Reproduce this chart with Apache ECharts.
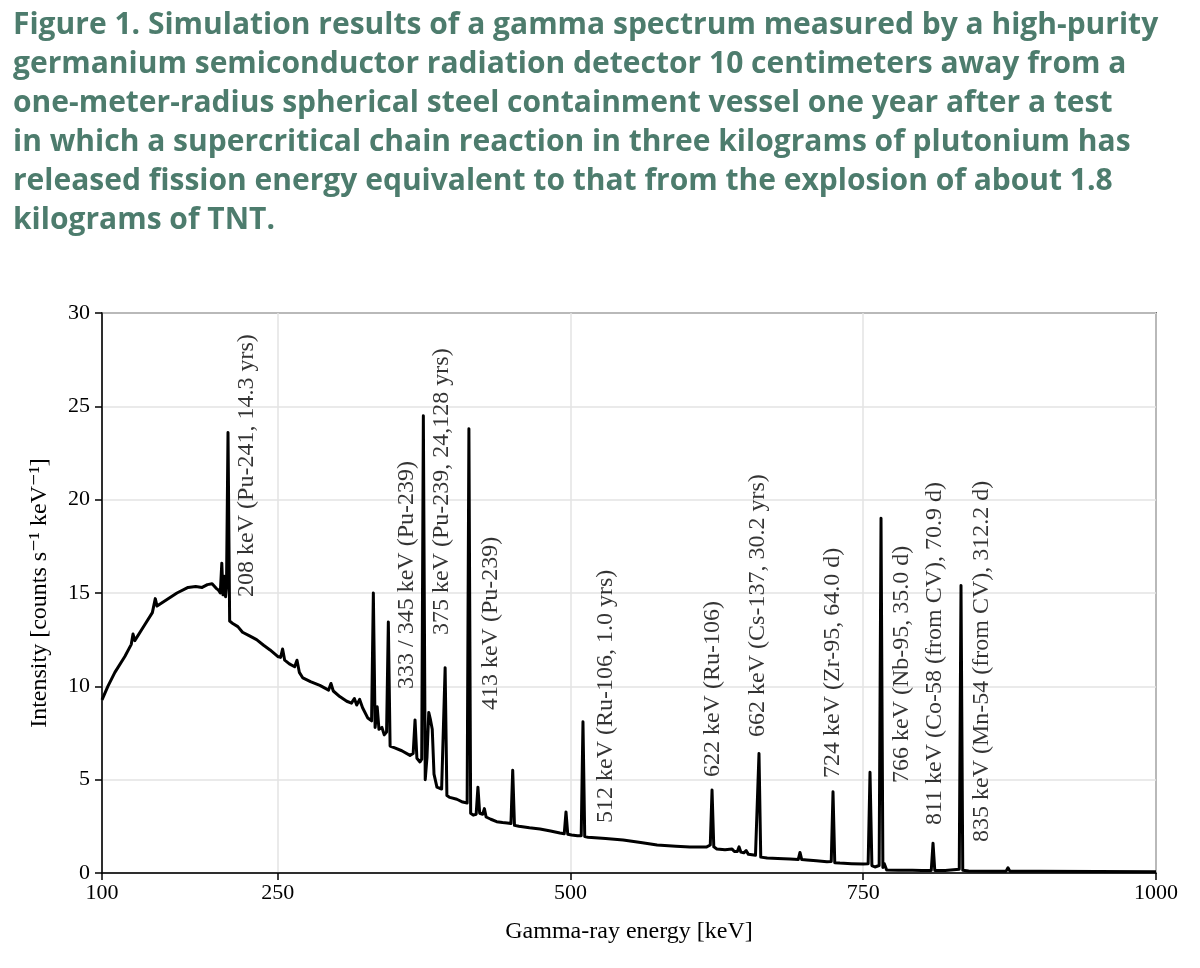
<!DOCTYPE html>
<html>
<head>
<meta charset="utf-8">
<script src="https://cdn.jsdelivr.net/npm/echarts@6/dist/echarts.min.js"></script>
<style>
html,body{margin:0;padding:0;background:#fff;}
#chart{width:1200px;height:968px;}
</style>
</head>
<body>
<div id="chart"></div>
<script>
// Spectrum (energy in keV, intensity in counts s^-1 keV^-1)
const energy = [100,105,111,119.5,125,126.5,128,136.5,143,145.5,147,155.5,164,173.5,180,185.5,190,194,197.5,199.5,201,202.3,203.3,204.5,205.5,206.3,207.6,209,212,216,220,226,232,238,243.5,250,252.5,254.2,256,260,264.5,266.5,268.5,271.5,278,286,293.5,295.5,297.5,303,309,313,315.5,317.5,320,322.5,327,330.2,331.7,333.2,335,336.5,339,341,343,344.5,346,350,356,363,365.7,367.3,368.9,371.5,373,374.4,376,377.5,379,380.5,382,383.5,386,390,391.5,393,394.5,397,403,408,411.8,413.3,414.8,417,419.5,421,422.5,425,426.5,428,432,437,442,446,449.2,450.7,452.2,456,465,474,483,491,494.7,496.2,497.7,501,506,509.2,510.7,512.2,515,530,545,560,574,590,602,616,619.4,620.9,622.4,625,632,638,640,642.5,644,645.5,648,650,652,658,659.5,661,662.5,668,677,687.5,694.5,696,697.5,702,710,719,722.7,724.2,725.7,730,740,750,754.2,755.8,757.4,760,763.6,765.2,766.8,768,770,780,792,800,808.1,809.6,811.1,820,832,833.5,835,840,860,872,873.6,875.2,900,950,1000];
const intensity = [9.27,10.0,10.75,11.6,12.25,12.8,12.45,13.3,13.95,14.7,14.3,14.65,15.0,15.3,15.35,15.3,15.45,15.5,15.25,15.15,15.0,16.6,14.9,15.9,14.8,15.3,23.6,13.5,13.35,13.2,12.9,12.7,12.5,12.2,11.95,11.6,11.55,12.0,11.4,11.2,11.05,11.4,10.75,10.45,10.25,10.05,9.8,10.15,9.75,9.45,9.2,9.1,9.35,9.0,9.3,8.85,8.3,8.15,15.0,7.8,8.9,7.7,7.8,7.4,7.55,13.45,6.8,6.7,6.55,6.3,6.4,8.2,6.15,5.95,6.1,24.5,5.0,6.2,8.6,8.2,7.7,5.3,4.6,4.5,4.55,11.0,4.15,4.05,3.95,3.8,3.75,23.8,3.2,3.1,3.15,4.6,3.2,3.15,3.45,3.0,2.88,2.75,2.7,2.68,2.65,5.5,2.55,2.5,2.42,2.36,2.25,2.14,2.1,3.27,2.08,2.04,2.0,2.0,8.1,1.95,1.92,1.85,1.77,1.63,1.5,1.43,1.39,1.39,1.5,4.45,1.4,1.29,1.25,1.28,1.15,1.15,1.4,1.12,1.08,1.2,1.0,0.95,1.0,6.4,0.85,0.8,0.78,0.75,0.72,1.1,0.72,0.7,0.65,0.6,0.62,4.35,0.55,0.53,0.5,0.48,0.5,5.4,0.4,0.32,0.4,19.0,0.3,0.5,0.16,0.15,0.15,0.14,0.14,1.6,0.14,0.13,0.2,15.4,0.15,0.11,0.1,0.1,0.28,0.1,0.09,0.08,0.07];

// Peak annotations: text, energy of the label column, intensity where the text starts
const peakLabels = ["208 keV (Pu-241, 14.3 yrs)","333 / 345 keV (Pu-239)","375 keV (Pu-239, 24,128 yrs)","413 keV (Pu-239)","512 keV (Ru-106, 1.0 yrs)","622 keV (Ru-106)","662 keV (Cs-137, 30.2 yrs)","724 keV (Zr-95, 64.0 d)","766 keV (Nb-95, 35.0 d)","811 keV (Co-58 (from CV), 70.9 d)","835 keV (Mn-54 (from CV), 312.2 d)"];
const labelEnergy = [223.8,360.4,390.3,432.2,530.4,621.7,659.7,724.2,783.1,811.3,851.4];
const labelIntensity = [14.79,9.86,12.75,8.73,2.68,5.14,7.29,5.09,4.82,2.57,1.66];

const xTicks = [100,250,500,750,1000];
const yTicks = [0,5,10,15,20,25,30];

const titleText = "Figure 1. Simulation results of a gamma spectrum measured by a high-purity\ngermanium semiconductor radiation detector 10 centimeters away from a\none-meter-radius spherical steel containment vessel one year after a test\nin which a supercritical chain reaction in three kilograms of plutonium has\nreleased fission energy equivalent to that from the explosion of about 1.8\nkilograms of TNT.";

const serif = '"Liberation Serif", "DejaVu Serif", serif';
const chart = echarts.init(document.getElementById('chart'), null, {renderer:'canvas'});
chart.setOption({
  animation:false,
  backgroundColor:'#fff',
  title:{
    text:titleText, left:8, top:1,
    textStyle:{fontFamily:'"Open Sans", Roboto, sans-serif', fontWeight:'bold', fontSize:30, lineHeight:39, color:'#4d7c6d'}
  },
  grid:{left:102, right:44, top:313, bottom:95, show:true, borderColor:'#000', borderWidth:1.5, backgroundColor:'transparent'},
  xAxis:{
    type:'value', min:xTicks[0], max:xTicks[xTicks.length-1],
    name:'Gamma-ray energy [keV]', nameLocation:'middle', nameGap:47,
    nameTextStyle:{fontFamily:serif, fontSize:24, color:'#000'},
    axisLine:{show:true, onZero:false, lineStyle:{color:'#000', width:1.5}},
    axisTick:{show:true, customValues:xTicks, length:7, inside:false, lineStyle:{color:'#000', width:1.5}},
    axisLabel:{customValues:xTicks, formatter:v=>String(v), fontFamily:serif, fontSize:22, color:'#000', margin:9},
    splitLine:{show:true, lineStyle:{color:'#e3e3e3', width:1.5}}
  },
  yAxis:{
    type:'value', min:yTicks[0], max:yTicks[yTicks.length-1], interval:5,
    name:'Intensity [counts s\u207B\u00B9 keV\u207B\u00B9]', nameLocation:'middle', nameGap:50,
    nameTextStyle:{fontFamily:serif, fontSize:24, color:'#000'},
    axisLine:{show:true, lineStyle:{color:'#000', width:1.5}},
    axisTick:{show:true, length:7, lineStyle:{color:'#000', width:1.5}},
    axisLabel:{fontFamily:serif, fontSize:22, color:'#000', margin:12},
    splitLine:{show:true, lineStyle:{color:'#e3e3e3', width:1.5}}
  },
  series:[
    {
      type:'line', data:energy.map((e,i)=>[e,intensity[i]]),
      showSymbol:false, symbol:'none', smooth:false,
      lineStyle:{color:'#000', width:3, join:'round'},
      z:3
    },
    {
      type:'scatter', symbolSize:0, silent:true,
      data:peakLabels.map((t,i)=>({name:t, value:[labelEnergy[i], labelIntensity[i]]})),
      label:{show:true, formatter:p=>p.name, position:'inside', rotate:90, align:'left', verticalAlign:'middle',
        fontFamily:serif, fontSize:24, color:'#000'},
      z:4
    }
  ]
});
</script>
</body>
</html>
